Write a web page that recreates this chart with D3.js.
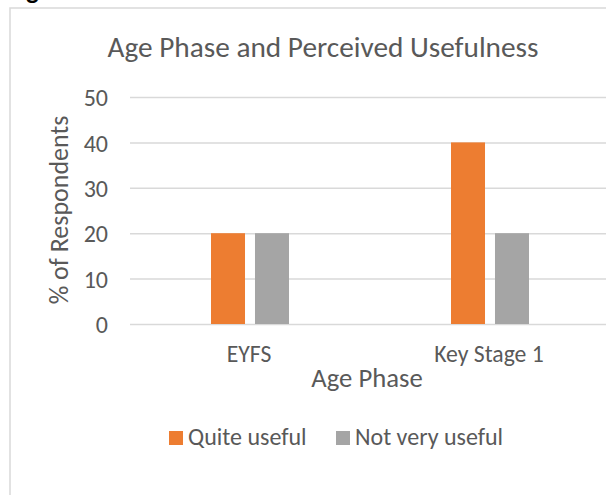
<!DOCTYPE html>
<html>
<head>
<meta charset="utf-8">
<script src="https://cdn.jsdelivr.net/npm/d3@7"></script>
<style>
  body { margin: 0; background: #fff; }
  svg { display: block; font-family: Carlito, Calibri, Lato, sans-serif; }
</style>
</head>
<body>
<svg width="606" height="495"></svg>
<script>
let categories = ['EYFS', 'Key Stage 1'];
let seriesNames = ['Quite useful', 'Not very useful'];
let quiteUseful = [20, 40];
let notVeryUseful = [20, 20];
let yTicks = [0, 10, 20, 30, 40, 50];
let colors = ['#ED7D31', '#A5A5A5'];

let svg = d3.select('svg');
let textColor = '#595959';
let gridColor = '#D9D9D9';

// cut-off caption above the chart box
svg.append('text')
    .attr('x', 8).attr('y', -1)
    .attr('font-size', 26).attr('font-weight', 'bold')
    .attr('fill', '#000')
    .text('Figure 3.6');

// chart area border (extends beyond the window)
svg.append('rect')
    .attr('x', 10).attr('y', 8)
    .attr('width', 640).attr('height', 520)
    .attr('fill', '#fff')
    .attr('stroke', gridColor).attr('stroke-width', 1.5);

let y = d3.scaleLinear().domain([0, 50]).range([324, 97]);
let x0 = d3.scaleBand().domain(categories).range([130, 610]);
let x1 = d3.scaleBand().domain(seriesNames)
    .range([x0.bandwidth() * 0.3375, x0.bandwidth() * 0.6625])
    .paddingInner(0.227);

// gridlines and tick labels
let yAxis = d3.axisLeft(y).tickValues(yTicks).tickSize(-(610 - 130)).tickPadding(22);
let gy = svg.append('g').attr('transform', 'translate(130,0)').call(yAxis);
gy.select('.domain').remove();
gy.selectAll('.tick line').attr('stroke', gridColor).attr('stroke-width', 1.5);
gy.selectAll('.tick text')
    .attr('fill', textColor)
    .attr('font-size', 24)
    .attr('font-family', 'Carlito, Calibri, Lato, sans-serif')
    .attr('dy', '0.36em');

// bars
let rows = categories.map((c, i) => ({ cat: c, vals: [quiteUseful[i], notVeryUseful[i]] }));
let groups = svg.append('g').selectAll('g')
    .data(rows).enter().append('g')
    .attr('transform', d => `translate(${x0(d.cat)},0)`);
groups.selectAll('rect')
    .data(d => d.vals.map((v, j) => ({ name: seriesNames[j], v: v, j: j })))
    .enter().append('rect')
    .attr('x', d => x1(d.name))
    .attr('width', x1.bandwidth())
    .attr('y', d => y(d.v))
    .attr('height', d => y(0) - y(d.v))
    .attr('fill', d => colors[d.j]);

// category labels
svg.append('g').selectAll('text')
    .data(categories).enter().append('text')
    .attr('x', d => x0(d) + x0.bandwidth() / 2 - 1)
    .attr('y', 362)
    .attr('text-anchor', 'middle')
    .attr('font-size', 23.7)
    .attr('fill', textColor)
    .text(d => d);

// titles
svg.append('text')
    .attr('x', 323).attr('y', 57)
    .attr('text-anchor', 'middle')
    .attr('font-size', 29.3)
    .attr('fill', textColor)
    .text('Age Phase and Perceived Usefulness');

svg.append('text')
    .attr('x', 367).attr('y', 387)
    .attr('text-anchor', 'middle')
    .attr('font-size', 26.7)
    .attr('fill', textColor)
    .text('Age Phase');

svg.append('text')
    .attr('transform', 'translate(68,210) rotate(-90)')
    .attr('text-anchor', 'middle')
    .attr('font-size', 26)
    .attr('fill', textColor)
    .text('% of Respondents');

// legend
let legendX = [169, 336];
let lg = svg.append('g').selectAll('g')
    .data(seriesNames).enter().append('g')
    .attr('transform', (d, i) => `translate(${legendX[i]},431)`);
lg.append('rect')
    .attr('width', 14).attr('height', 14)
    .attr('fill', (d, i) => colors[i]);
lg.append('text')
    .attr('x', 19).attr('y', 14)
    .attr('font-size', 24)
    .attr('fill', textColor)
    .text(d => d);
</script>
</body>
</html>
